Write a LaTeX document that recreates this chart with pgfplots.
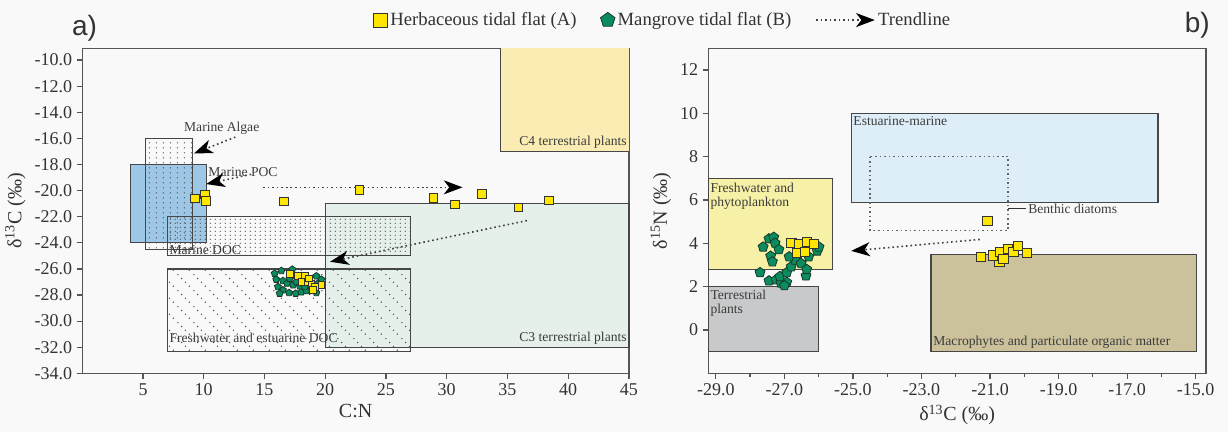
\documentclass[border=0pt]{standalone}
\usepackage{pgfplots}
\pgfplotsset{compat=1.18}
\usepackage{fontspec}
\setmainfont{Liberation Serif}
\newfontfamily\panelfont{Liberation Sans}
\usetikzlibrary{arrows.meta,patterns.meta,plotmarks}

\definecolor{yel}{RGB}{255,230,0}
\definecolor{grn}{RGB}{10,140,95}
\definecolor{grnd}{RGB}{25,55,40}
\definecolor{cfour}{RGB}{250,236,178}
\definecolor{cthree}{RGB}{228,240,233}
\definecolor{poc}{RGB}{158,199,230}
\definecolor{fwp}{RGB}{246,241,166}
\definecolor{terr}{RGB}{200,201,202}
\definecolor{estm}{RGB}{221,238,248}
\definecolor{macro}{RGB}{203,194,156}
\definecolor{bgc}{RGB}{249,249,249}
\definecolor{frm}{RGB}{85,85,85}
\definecolor{boxl}{RGB}{70,70,70}
\definecolor{txt}{RGB}{60,60,60}

\tikzdeclarepattern{name=gridA, type=uncolored,
  bounding box={(0pt,0pt) and (5.5pt,3.8pt)}, tile size={(5.5pt,3.8pt)},
  code={\fill (2.75pt,1.9pt) circle (0.55pt);}}
\tikzdeclarepattern{name=gridB, type=uncolored,
  bounding box={(0pt,0pt) and (3.6pt,2.8pt)}, tile size={(3.6pt,2.8pt)},
  code={\fill (1.8pt,1.4pt) circle (0.5pt);}}
\tikzdeclarepattern{name=diagdots, type=uncolored,
  bounding box={(0pt,0pt) and (12pt,12pt)}, tile size={(12pt,12pt)},
  code={\fill (1.5pt,10.5pt) circle (0.55pt); \fill (4.5pt,7.5pt) circle (0.55pt);
        \fill (7.5pt,4.5pt) circle (0.55pt); \fill (10.5pt,1.5pt) circle (0.55pt);}}

\tikzset{
  boxline/.style={draw=boxl, line width=0.9pt},
  trend/.style={draw=black!75, line width=1.2pt, dash pattern=on 1.2pt off 2.2pt},
  tip/.style={-{Stealth[length=14pt,width=10.5pt,inset=4pt,color=black]}},
  lbl/.style={text=txt, font=\fontsize{10.2}{11.7}\selectfont, inner sep=1.5pt},
  ymark/.style={only marks, mark=square*, mark size=#1, mark options={solid, fill=yel, draw=black!80, line width=0.7pt}},
  gmark/.style={only marks, mark=pentagon*, mark size=#1, mark options={solid, fill=grn, draw=grnd, line width=0.6pt}},
}

\pgfplotsset{
  every axis/.append style={
    scale only axis, anchor=south west, clip=false,
    axis line style={draw=frm, line width=1.1pt},
    tick style={draw=frm, line width=0.9pt},
    major tick length=4pt, minor tick length=3pt,
    tick align=outside, xtick pos=bottom, ytick pos=left,
    /pgf/number format/assume math mode=true,
    ticklabel style={font=\fontsize{13.5}{15}\selectfont, text=black!80},
    label style={font=\fontsize{15}{17}\selectfont, text=black!80},
  },
}

\begin{document}
\begin{tikzpicture}
\useasboundingbox (0,0) rectangle (921pt,324pt);
\fill[bgc] (0,0) rectangle (921pt,324pt);

% ---------------- panel a ----------------
\begin{axis}[
  at={(61.7pt,44pt)}, width=410pt, height=243.75pt,
  xmin=0, xmax=45, ymin=-34, ymax=-9.1,
  xtick={5,10,...,45}, ytick={-34,-32,...,-10},
  yticklabel style={/pgf/number format/.cd, fixed, fixed zerofill, precision=1},
  xlabel={C:N}, ylabel={δ\textsuperscript{13}C (‰)},
  legend columns=3,
  legend style={at={(1.063,1.087)}, anchor=center, draw=none, fill=none,
    font=\fontsize{14}{16}\selectfont, text=black!80,
    /tikz/every even column/.append style={column sep=16pt}},
]
\addlegendimage{legend image code/.code={\draw[ymark=5.2pt] plot coordinates {(0pt,0pt)};}}
\addlegendentry{Herbaceous tidal flat (A)}
\addlegendimage{legend image code/.code={\draw[gmark=5.7pt] plot coordinates {(0pt,0pt)};}}
\addlegendentry{Mangrove tidal flat (B)}
\addlegendimage{legend image code/.code={\draw[trend,tip] (0pt,0pt) -- (44pt,0pt);}}
\addlegendentry{Trendline}

% fills
\fill[cfour] (axis cs:34.4,-9.1) rectangle (axis cs:45,-17);
\draw[boxline] (axis cs:34.4,-9.1) -- (axis cs:34.4,-17) -- (axis cs:45,-17);
\draw[boxline, fill=cthree] (axis cs:20,-21) rectangle (axis cs:45,-32);
\draw[boxline, fill=poc] (axis cs:4,-18) rectangle (axis cs:10.2,-24);
% patterned boxes
\draw[boxline, pattern={gridA}, pattern color=black!75] (axis cs:5.2,-16) rectangle (axis cs:9.1,-24.5);
\draw[boxline, pattern={gridB}, pattern color=black!70] (axis cs:7,-22) rectangle (axis cs:27,-25);
\draw[boxline, pattern={diagdots}, pattern color=black!75] (axis cs:7,-26) rectangle (axis cs:27,-32.3);

% labels
\node[lbl, anchor=west] at (axis cs:8.2,-15.25) {Marine Algae};
\node[lbl, anchor=west] at (axis cs:10.2,-18.55) {Marine POC};
\node[lbl, anchor=west] at (axis cs:7.0,-24.55) {Marine DOC};
\node[lbl, anchor=west] at (axis cs:7.0,-31.3) {Freshwater and estuarine DOC};
\node[lbl, anchor=east] at (axis cs:45,-16.3) {C4 terrestrial plants};
\node[lbl, anchor=east] at (axis cs:45,-31.3) {C3 terrestrial plants};

% trend lines
\draw[trend,tip] (axis cs:12.6,-15.9) -- (axis cs:9.2,-17.15);
\draw[trend,tip] (axis cs:13.9,-18.75) -- (axis cs:10.2,-19.5);
\draw[trend,tip] (axis cs:14.9,-19.75) -- (axis cs:31.3,-19.75);
\draw[trend,tip] (axis cs:36.6,-22.3) -- (axis cs:20.4,-25.45);

% data
\addplot[gmark=2.7pt, forget plot] coordinates {
(15.84,-26.35) (16.39,-26.14) (17.29,-26.04) (15.97,-26.81) (16.52,-26.91)
(16.11,-27.37) (16.52,-27.62) (17.02,-27.83) (17.57,-27.88) (18.03,-27.78)
(18.44,-27.68) (17.90,-27.32) (17.35,-27.24) (16.85,-27.11) (19.27,-26.55)
(19.68,-26.81) (18.85,-27.42) (19.27,-27.83) (17.07,-26.73) (17.62,-26.99)
(16.25,-27.88) (18.31,-27.37) (19.40,-27.11)};
\addplot[ymark=2.5pt, forget plot] coordinates {
(17.09,-26.40) (17.78,-26.55) (18.33,-26.55) (18.05,-26.99) (18.60,-26.99)
(18.87,-27.11) (19.15,-27.37) (19.70,-27.24) (19.01,-27.62) (18.68,-26.73)};
\addplot[ymark=3.2pt, forget plot] coordinates {
(9.26,-20.6) (10.1,-20.3) (10.2,-20.8) (16.6,-20.85) (22.8,-19.95)
(28.9,-20.55) (30.7,-21.05) (32.9,-20.25) (35.9,-21.3) (38.4,-20.75)};
\end{axis}

% ---------------- panel b ----------------
\begin{axis}[
  at={(531.2pt,44pt)}, width=373.3pt, height=243.75pt,
  xmin=-29.22, xmax=-14.7, ymin=-2, ymax=13,
  xtick={-29,-27,...,-15}, minor xtick={-28,-26,...,-16}, ytick={0,2,...,12},
  xticklabel style={/pgf/number format/.cd, fixed, fixed zerofill, precision=1},
  xlabel={δ\textsuperscript{13}C (‰)}, ylabel={δ\textsuperscript{15}N (‰)},
]
\draw[boxline, fill=fwp] (axis cs:-29.22,7) rectangle (axis cs:-25.6,2.8);
\draw[boxline, fill=terr] (axis cs:-29.22,2) rectangle (axis cs:-26.0,-1);
\draw[boxline, fill=estm] (axis cs:-25.05,10) rectangle (axis cs:-16.1,5.9);
\draw[boxline, fill=macro] (axis cs:-22.72,3.5) rectangle (axis cs:-14.97,-1);
\draw[trend, draw=black!60] (axis cs:-24.5,8) rectangle (axis cs:-20.47,4.6);

\node[lbl, anchor=north west, align=left] at (axis cs:-29.22,6.9) {Freshwater and\\[-1pt]phytoplankton};
\node[lbl, anchor=north west, align=left] at (axis cs:-29.22,1.95) {Terrestrial\\[-1pt]plants};
\node[lbl, anchor=north west] at (axis cs:-25.05,9.95) {Estuarine-marine};
\draw[black!80, line width=0.8pt] (axis cs:-20.47,5.6) -- (axis cs:-19.95,5.6);
\node[lbl, anchor=west] at (axis cs:-19.95,5.6) {Benthic diatoms};
\node[lbl, anchor=south west] at (axis cs:-22.72,-0.97) {Macrophytes and particulate organic matter};

\draw[trend,tip] (axis cs:-21.3,4.18) -- (axis cs:-25.05,3.65);

\addplot[gmark=3.9pt] coordinates {
(-27.62,3.83) (-27.45,4.21) (-27.31,4.28) (-27.27,4.01) (-27.16,3.71)
(-27.40,3.41) (-27.35,3.15) (-27.71,2.65) (-27.45,2.27) (-27.24,2.32)
(-27.10,2.17) (-26.93,2.20) (-27.13,2.47) (-26.93,2.65) (-26.80,2.92)
(-26.69,3.23) (-26.51,3.07) (-26.37,2.50) (-26.35,2.80) (-26.29,3.38)
(-26.04,3.65) (-25.99,3.83) (-26.86,3.38) (-27.00,2.05)};
\addplot[ymark=3.5pt] coordinates {
(-26.79,4.02) (-26.57,3.97) (-26.35,4.05) (-26.13,3.96) (-26.64,3.55) (-26.40,3.59)
(-21.08,5.04)
(-20.73,3.13) (-21.27,3.36) (-20.91,3.44) (-20.71,3.59) (-20.61,3.28)
(-20.47,3.74) (-20.32,3.59) (-20.18,3.89) (-19.93,3.56)};
\end{axis}

\node[font=\panelfont\fontsize{21}{24}\selectfont, text=black!80] at (63.4pt,303pt) {a)};
\node[font=\panelfont\fontsize{21}{24}\selectfont, text=black!80] at (898pt,305pt) {b)};
\end{tikzpicture}
\end{document}
